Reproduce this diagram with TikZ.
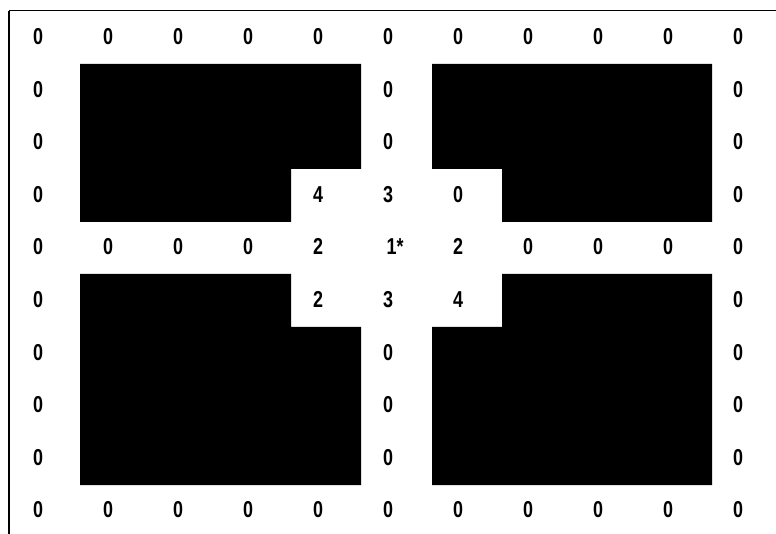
\documentclass[tikz,border=0pt]{standalone}
\usepackage{fontspec}
\setmainfont{Liberation Sans}
\begin{document}
\begin{tikzpicture}[x=1pt,y=-1pt,
  cell/.style={inner sep=0pt,font=\fontsize{23}{23}\selectfont\bfseries,xscale=0.78,transform shape},
  wall/.style={fill=black,draw=none}]
\useasboundingbox (0,0) rectangle (776,534);
\fill[white] (0,0) rectangle (776,534);
% frame lines
\coordinate (tl) at (9,10.7);
\coordinate (tr) at (776,10.7);
\coordinate (bl) at (9,534);
\draw[line width=1.4pt] (tl) -- (tr);
\draw[line width=2.6pt] (tl) -- (bl);
% walls
\path[wall] (80,64) -- (361,64) -- (361,169) -- (291,169) -- (291,222) -- (80,222) -- cycle;
\path[wall] (432,64) -- (712,64) -- (712,222) -- (502,222) -- (502,169) -- (432,169) -- cycle;
\path[wall] (80,274) -- (291,274) -- (291,327) -- (361,327) -- (361,485) -- (80,485) -- cycle;
\path[wall] (502,274) -- (712,274) -- (712,485) -- (432,485) -- (432,327) -- (502,327) -- cycle;
% values
\foreach \c in {0,...,10}{
  \node[cell] (r0c\c) at ({38+70*\c},36.5) {0};
  \node[cell] (r9c\c) at ({38+70*\c},510) {0};
}
\foreach \r in {1,2,3,5,6,7,8}{
  \node[cell] (r\r c0) at (38,{36.5+52.6*\r}) {0};
  \node[cell] (r\r c10) at (738,{36.5+52.6*\r}) {0};
}
\foreach \r in {1,2,6,7,8}{
  \node[cell] (r\r c5) at (388,{36.5+52.6*\r}) {0};
}
\foreach \c in {0,1,2,3,7,8,9,10}{
  \node[cell] (r4c\c) at ({38+70*\c},246.9) {0};
}
\node[cell] (r3c4) at (318,194.3) {4};
\node[cell] (r3c5) at (388,194.3) {3};
\node[cell] (r3c6) at (458,194.3) {0};
\node[cell] (r4c4) at (318,246.9) {2};
\node[cell] (r4c5) at (395,246.9) {1*};
\node[cell] (r4c6) at (458,246.9) {2};
\node[cell] (r5c4) at (318,299.5) {2};
\node[cell] (r5c5) at (388,299.5) {3};
\node[cell] (r5c6) at (458,299.5) {4};
\end{tikzpicture}
\end{document}
